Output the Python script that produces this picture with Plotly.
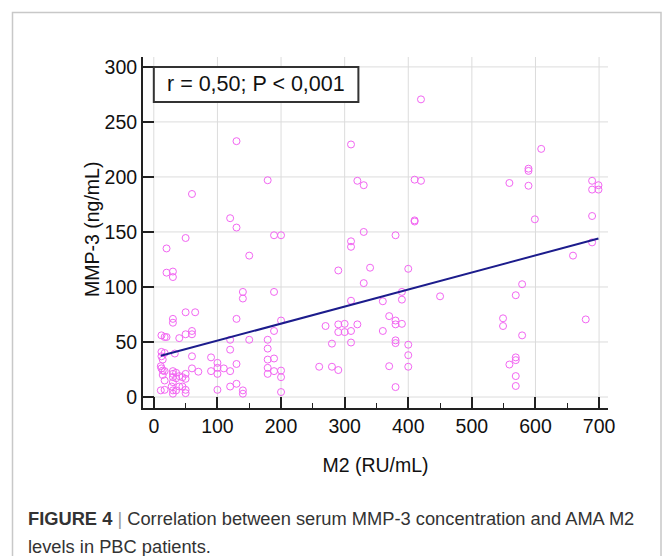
import plotly.graph_objects as go

# M2 (RU/mL) vs MMP-3 (ng/mL)
m2 = [
    130, 179, 60, 120, 130, 50, 189, 200, 20, 150, 20, 30, 30,
    140, 140, 189, 50, 65, 130, 30, 30, 200, 60, 60, 50, 12, 17, 20, 40,
    189, 120, 150, 179, 120, 179, 12, 17, 12, 14, 33, 60, 90, 100, 179,
    189, 130, 11, 12, 14, 60, 70, 90, 100, 100, 110, 120, 179, 179, 189,
    200, 200, 30, 30, 30, 35, 35, 40, 45, 50, 50, 17, 14, 17, 30, 11,
    17, 28, 30, 30, 35, 40, 45, 50, 50, 100, 120, 130, 140, 140, 200,
    420, 310, 320, 330, 410, 420, 410, 410, 330, 380, 310, 310, 290, 340,
    400, 330, 390, 450, 310, 360, 390, 370, 380, 380, 390, 270, 290, 290,
    300, 300, 310, 320, 360, 280, 310, 380, 380, 400, 400, 400, 260, 280,
    290, 370, 380,
    609, 589, 589, 559, 589, 689, 699, 699, 689, 599, 689, 689, 659, 579,
    569, 549, 549, 679, 579, 569, 569, 559, 569, 569,
]
mmp3 = [
    232.5, 197, 184.5, 162.5, 154, 144.5, 147, 147, 135, 128.5, 113, 114, 109,
    95.5, 89.5, 95.5, 77, 77, 71, 71, 67.5, 69.5, 60, 57, 57, 56, 54.5, 54.5, 53.5,
    60, 52, 52, 52, 43, 44, 41, 40, 37, 34, 39.5, 37, 36, 31, 34,
    35, 30, 28, 26, 24, 26, 23, 23.5, 26.5, 21, 26, 23.5, 26.5, 21, 23.5,
    24, 18, 23.5, 21, 18, 22, 17, 19, 18, 21, 16.5, 23.5, 20, 15, 13.5, 6,
    6.5, 9.5, 6, 3, 6, 9.5, 9.5, 6.5, 3.5, 6.5, 9.5, 12, 6, 3, 4.5,
    270.5, 229.5, 196.5, 192.5, 197.5, 196.5, 160.5, 159.5, 150, 147, 141.5, 136.5, 115, 117.5,
    116.5, 103.5, 95.5, 91.5, 87.5, 87, 88.5, 73.5, 69.5, 66, 66.5, 64.5, 66, 59,
    66.5, 59, 60, 66, 60, 48.5, 49.5, 51.5, 49, 47.5, 38, 27.5, 27.5, 27.5,
    24.5, 28, 9,
    225.5, 207.5, 205.5, 194.5, 192, 196.5, 192.5, 188.5, 188.5, 161.5, 164.5, 140.5, 128.5, 102.5,
    92.5, 71.5, 64.5, 70.5, 56, 36, 33.5, 29.5, 19, 10,
]

# regression line
fit_intercept = 35.7
fit_slope = 0.155

x_ticks = [0, 100, 200, 300, 400, 500, 600, 700]
y_ticks = [0, 50, 100, 150, 200, 250, 300]
stat_text = "r = 0,50; P < 0,001"

W, H = 663, 556
M_L, M_R, M_T, M_B = 143, 55, 57, 148
PLOT_W = W - M_L - M_R
PLOT_H = H - M_T - M_B
X_RANGE = [-17, 714]
Y_RANGE = [-10, 309]
FONT = "Liberation Sans, Arial, sans-serif"
GRID = "#dcdcdc"
AXIS = "#222222"


def px_x(p):
    return (p - M_L) / PLOT_W


def px_y(p):
    return (H - M_B - p) / PLOT_H


fig = go.Figure()

# grid drawn only over the data region, like the original
for xv in x_ticks:
    fig.add_shape(type="line", xref="x", yref="y", x0=xv, x1=xv,
                  y0=0, y1=Y_RANGE[1], line={"color": GRID, "width": 1}, layer="below")
for yv in y_ticks:
    fig.add_shape(type="line", xref="x", yref="y", x0=0, x1=X_RANGE[1],
                  y0=yv, y1=yv, line={"color": GRID, "width": 1}, layer="below")

fig.add_trace(
    go.Scatter(
        x=m2,
        y=mmp3,
        mode="markers",
        marker={
            "symbol": "circle-open",
            "size": 7,
            "color": "#f266f2",
            "line": {"width": 1},
        },
        showlegend=False,
    )
)

x_lo, x_hi = min(m2), max(m2)
fig.add_trace(
    go.Scatter(
        x=[x_lo, x_hi],
        y=[fit_intercept + fit_slope * x_lo, fit_intercept + fit_slope * x_hi],
        mode="lines",
        line={"color": "#1c1c8c", "width": 2},
        showlegend=False,
    )
)

# stats box
fig.add_shape(type="rect", xref="x", yref="y", x0=0, x1=321.6, y0=268.2, y1=300,
              line={"color": "#333333", "width": 2}, fillcolor="white")
fig.add_annotation(xref="x", yref="y", x=160.8, y=284.1, text=stat_text,
                   showarrow=False, font={"size": 21.5, "color": "#111111", "family": FONT})

# y title placed by hand so it sits where the original has it
fig.add_annotation(xref="paper", yref="paper", x=px_x(92), y=px_y(230),
                   text="MMP-3 (ng/mL)", textangle=-90, showarrow=False,
                   xanchor="center", yanchor="middle",
                   font={"size": 19.5, "color": "#111111", "family": FONT})

# outer figure frame
fig.add_shape(type="rect", xref="paper", yref="paper",
              x0=px_x(12.5), x1=px_x(661), y0=px_y(12.5), y1=px_y(600),
              line={"color": "#c8c8c8", "width": 1.5}, layer="below")

# caption
fig.add_annotation(
    xref="paper", yref="paper", x=px_x(26), y=px_y(518),
    xanchor="left", yanchor="middle", showarrow=False, align="left",
    text="<b>FIGURE 4</b> <span style='color:#999999'>|</span> Correlation between serum MMP-3 concentration and AMA M2",
    font={"size": 18.3, "color": "#333333", "family": FONT},
)
fig.add_annotation(
    xref="paper", yref="paper", x=px_x(26), y=px_y(546),
    xanchor="left", yanchor="middle", showarrow=False, align="left",
    text="levels in PBC patients.",
    font={"size": 18.3, "color": "#333333", "family": FONT},
)

fig.update_layout(
    width=W,
    height=H,
    margin={"l": M_L, "r": M_R, "t": M_T, "b": M_B, "pad": 0},
    paper_bgcolor="white",
    plot_bgcolor="white",
    font={"family": FONT, "size": 19.5, "color": "#111111"},
)
fig.update_xaxes(
    range=X_RANGE,
    tickvals=x_ticks,
    showgrid=False,
    zeroline=False,
    showline=True,
    linecolor=AXIS,
    linewidth=2,
    ticks="inside",
    ticklen=11,
    tickwidth=2,
    tickcolor=AXIS,
    minor={"ticks": "inside", "ticklen": 5, "tickwidth": 1, "tickcolor": AXIS,
           "dtick": 50, "showgrid": False},
    tickfont={"size": 19.5},
    title={"text": "M2 (RU/mL)", "font": {"size": 19.5}, "standoff": 22},
)
fig.update_yaxes(
    range=Y_RANGE,
    tickvals=y_ticks,
    showgrid=False,
    zeroline=False,
    showline=True,
    linecolor=AXIS,
    linewidth=2,
    ticks="inside",
    ticklen=11,
    tickwidth=2,
    tickcolor=AXIS,
    tickfont={"size": 19.5},
)

# the page's default body margin would push the figure 8px off
fig.write_html(
    "out.html",
    config={"displayModeBar": False},
    post_script="document.body.style.margin='0px';",
)
